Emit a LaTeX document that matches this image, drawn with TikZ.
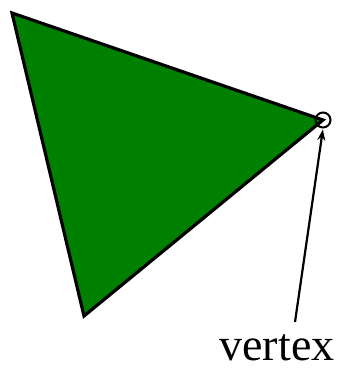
\documentclass[tikz,border=0pt]{standalone}
\usetikzlibrary{arrows.meta}
\usepackage{fontspec}
\setmainfont{Liberation Serif}
\definecolor{facegreen}{RGB}{0,128,0}
\begin{document}
\begin{tikzpicture}[x=1pt,y=-1pt,line width=3.2pt,>={Stealth[length=11pt,width=8pt]},
  marker/.style={draw,circle,line width=2pt,minimum size=15pt,inner sep=0pt}]
\useasboundingbox (0,0) rectangle (337,369);
% ---------- triangle ----------
\coordinate (tl) at (12,13);
\coordinate (rv) at (323,120);
\coordinate (bt) at (84,316);
\filldraw[fill=facegreen,line join=miter] (tl) -- (rv) -- (bt) -- cycle;
% ---------- marked vertex ----------
\node[marker] (ring) at (rv) {};
% ---------- label with leader ----------
\node[anchor=base,font=\fontsize{46}{50}\selectfont,inner sep=0pt] (lbl) at (277,360) {vertex};
\coordinate (tail) at (295,322);
\draw[->,line width=2.2pt,shorten >=1pt] (tail) -- (ring.south);
\end{tikzpicture}
\end{document}
